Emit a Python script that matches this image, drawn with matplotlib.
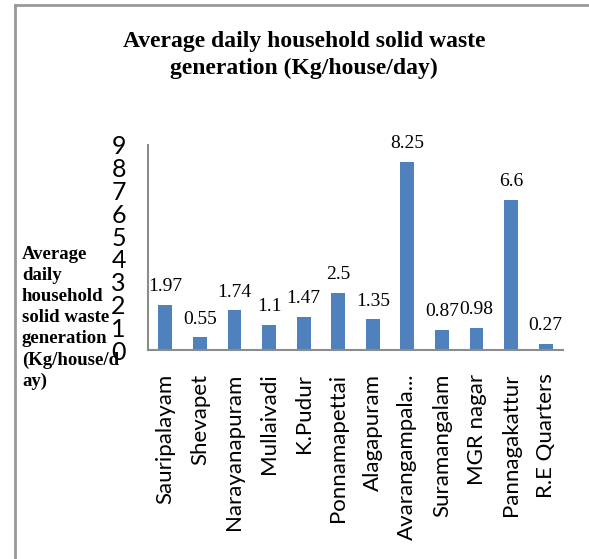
import matplotlib
matplotlib.use("Agg")
import matplotlib.pyplot as plt
from matplotlib.lines import Line2D

places = ["Sauripalayam", "Shevapet", "Narayanapuram", "Mullaivadi", "K.Pudur",
          "Ponnamapettai", "Alagapuram", "Avarangampala...", "Suramangalam",
          "MGR nagar", "Pannagakattur", "R.E Quarters"]
waste = [1.97, 0.55, 1.74, 1.1, 1.47, 2.5, 1.35, 8.25, 0.87, 0.98, 6.6, 0.27]
value_labels = ["1.97", "0.55", "1.74", "1.1", "1.47", "2.5", "1.35", "8.25",
                "0.87", "0.98", "6.6", "0.27"]
y_ticks = list(range(0, 10))

W, H = 589, 559
fig = plt.figure(figsize=(W / 100, H / 100), dpi=100)
ax = fig.add_axes([148 / W, 1 - 350 / H, (563 - 148) / W, (350 - 145) / H])

x = list(range(len(places)))
ax.bar(x, waste, width=0.4, color="#4f81bd", zorder=2)
ax.set_xlim(-0.5, len(places) - 0.5)
ax.set_ylim(0, 9)

for xi, v, lab in zip(x, waste, value_labels):
    ax.annotate(lab, (xi, v), xytext=(0, 7), textcoords="offset points",
                ha="center", va="bottom", fontsize=14,
                family="Liberation Serif")

ax.set_yticks(y_ticks)
ax.set_yticklabels([str(t) for t in y_ticks], fontsize=18, family="Lato")
ax.set_xticks(x)
ax.set_xticklabels(places, rotation=90, fontsize=16, family="Lato",
                   ha="center", va="top")
ax.tick_params(axis="y", length=0, pad=16)
ax.tick_params(axis="x", length=0, pad=17)

for s in ("top", "right"):
    ax.spines[s].set_visible(False)
for s in ("left", "bottom"):
    ax.spines[s].set_color("#8c8c8c")
    ax.spines[s].set_linewidth(1.5)

fig.text(304 / W, 1 - 55 / H,
         "Average daily household solid waste\ngeneration (Kg/house/day)",
         ha="center", va="center", fontsize=17, fontweight="bold",
         family="Liberation Serif", linespacing=1.32)

fig.text(22 / W, 1 - 318 / H,
         "Average\ndaily\nhousehold\nsolid waste\ngeneration\n(Kg/house/d\nay)",
         ha="left", va="center", fontsize=13.5, fontweight="bold",
         family="Liberation Serif", linespacing=1.32)

# outer frame (left and top edges)
bx, by = 14.5 / W, 1 - 4.5 / H
fig.add_artist(Line2D([bx, bx], [0, by], transform=fig.transFigure,
                      color="#999999", lw=2))
fig.add_artist(Line2D([bx, 1], [by, by], transform=fig.transFigure,
                      color="#999999", lw=2))

fig.savefig("out.png", dpi=100)
